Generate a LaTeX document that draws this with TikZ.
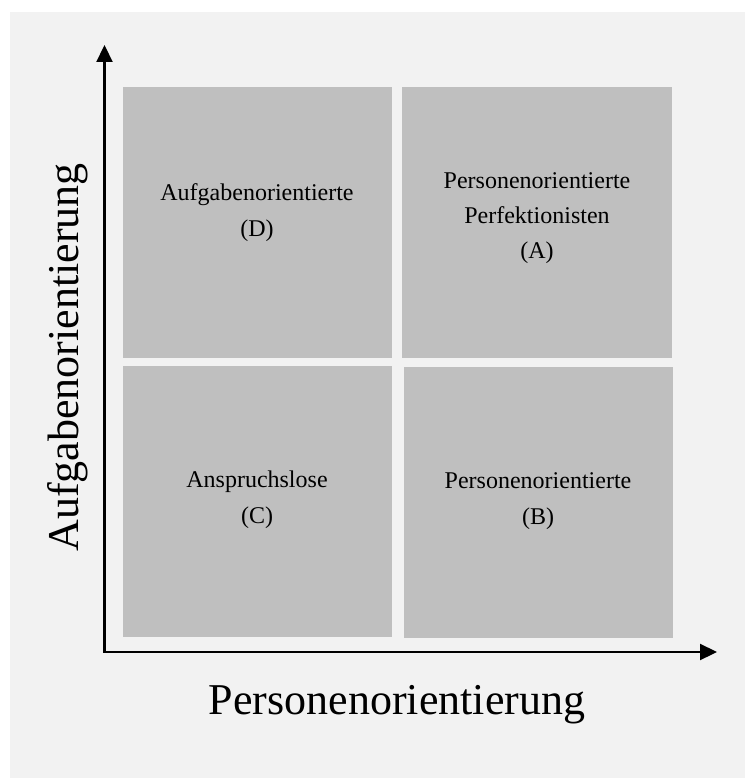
\documentclass[tikz,border=0pt]{standalone}
\usepackage{fontspec}
\setmainfont{Liberation Serif}
\usetikzlibrary{arrows.meta}
\definecolor{bgpanel}{HTML}{F2F2F2}
\definecolor{cell}{HTML}{BFBFBF}
\begin{document}
\begin{tikzpicture}[x=1pt,y=-1pt,
  cellbox/.style={fill=cell, draw=none, inner sep=0pt},
  celltext/.style={anchor=base, inner sep=0pt, font=\fontsize{24}{29}\selectfont},
  axislabel/.style={anchor=base, inner sep=0pt, font=\fontsize{44}{53}\selectfont},
  axis/.style={line width=2.2pt, line join=miter,
    {Triangle[width=16pt,length=17pt]}-{Triangle[width=16pt,length=17pt]}}]
  % page and panel
  \useasboundingbox (0,0) rectangle (745,778);
  \fill[white] (0,0) rectangle (745,778);
  \fill[bgpanel] (10,12) rectangle (745,778);

  % the four quadrants
  \node[cellbox, minimum width=269pt, minimum height=271pt] (D) at (257.5,222.5) {};
  \node[cellbox, minimum width=270pt, minimum height=271pt] (A) at (537,222.5) {};
  \node[cellbox, minimum width=269pt, minimum height=271pt] (C) at (257.5,501.5) {};
  \node[cellbox, minimum width=269pt, minimum height=271pt] (B) at (538.5,502.5) {};

  % quadrant captions
  \node[celltext] (D1) at (257,200) {Aufgabenorientierte};
  \node[celltext] (D2) at (257,236) {(D)};
  \node[celltext] (A1) at (537,188) {Personenorientierte};
  \node[celltext] (A2) at (537,223) {Perfektionisten};
  \node[celltext] (A3) at (537,258) {(A)};
  \node[celltext] (C1) at (257,487) {Anspruchslose};
  \node[celltext] (C2) at (257,523) {(C)};
  \node[celltext] (B1) at (538,488) {Personenorientierte};
  \node[celltext] (B2) at (538,524) {(B)};

  % axes
  \coordinate (O) at (104.5,652);
  \coordinate (ytip) at (104.5,45);
  \coordinate (xtip) at (717,652);
  \draw[axis] (ytip) -- (O) -- (xtip);

  % axis titles
  \node[axislabel] (xlab) at (397,714) {Personenorientierung};
  \node[axislabel, rotate=90] (ylab) at (78,357.5) {Aufgabenorientierung};
\end{tikzpicture}
\end{document}
